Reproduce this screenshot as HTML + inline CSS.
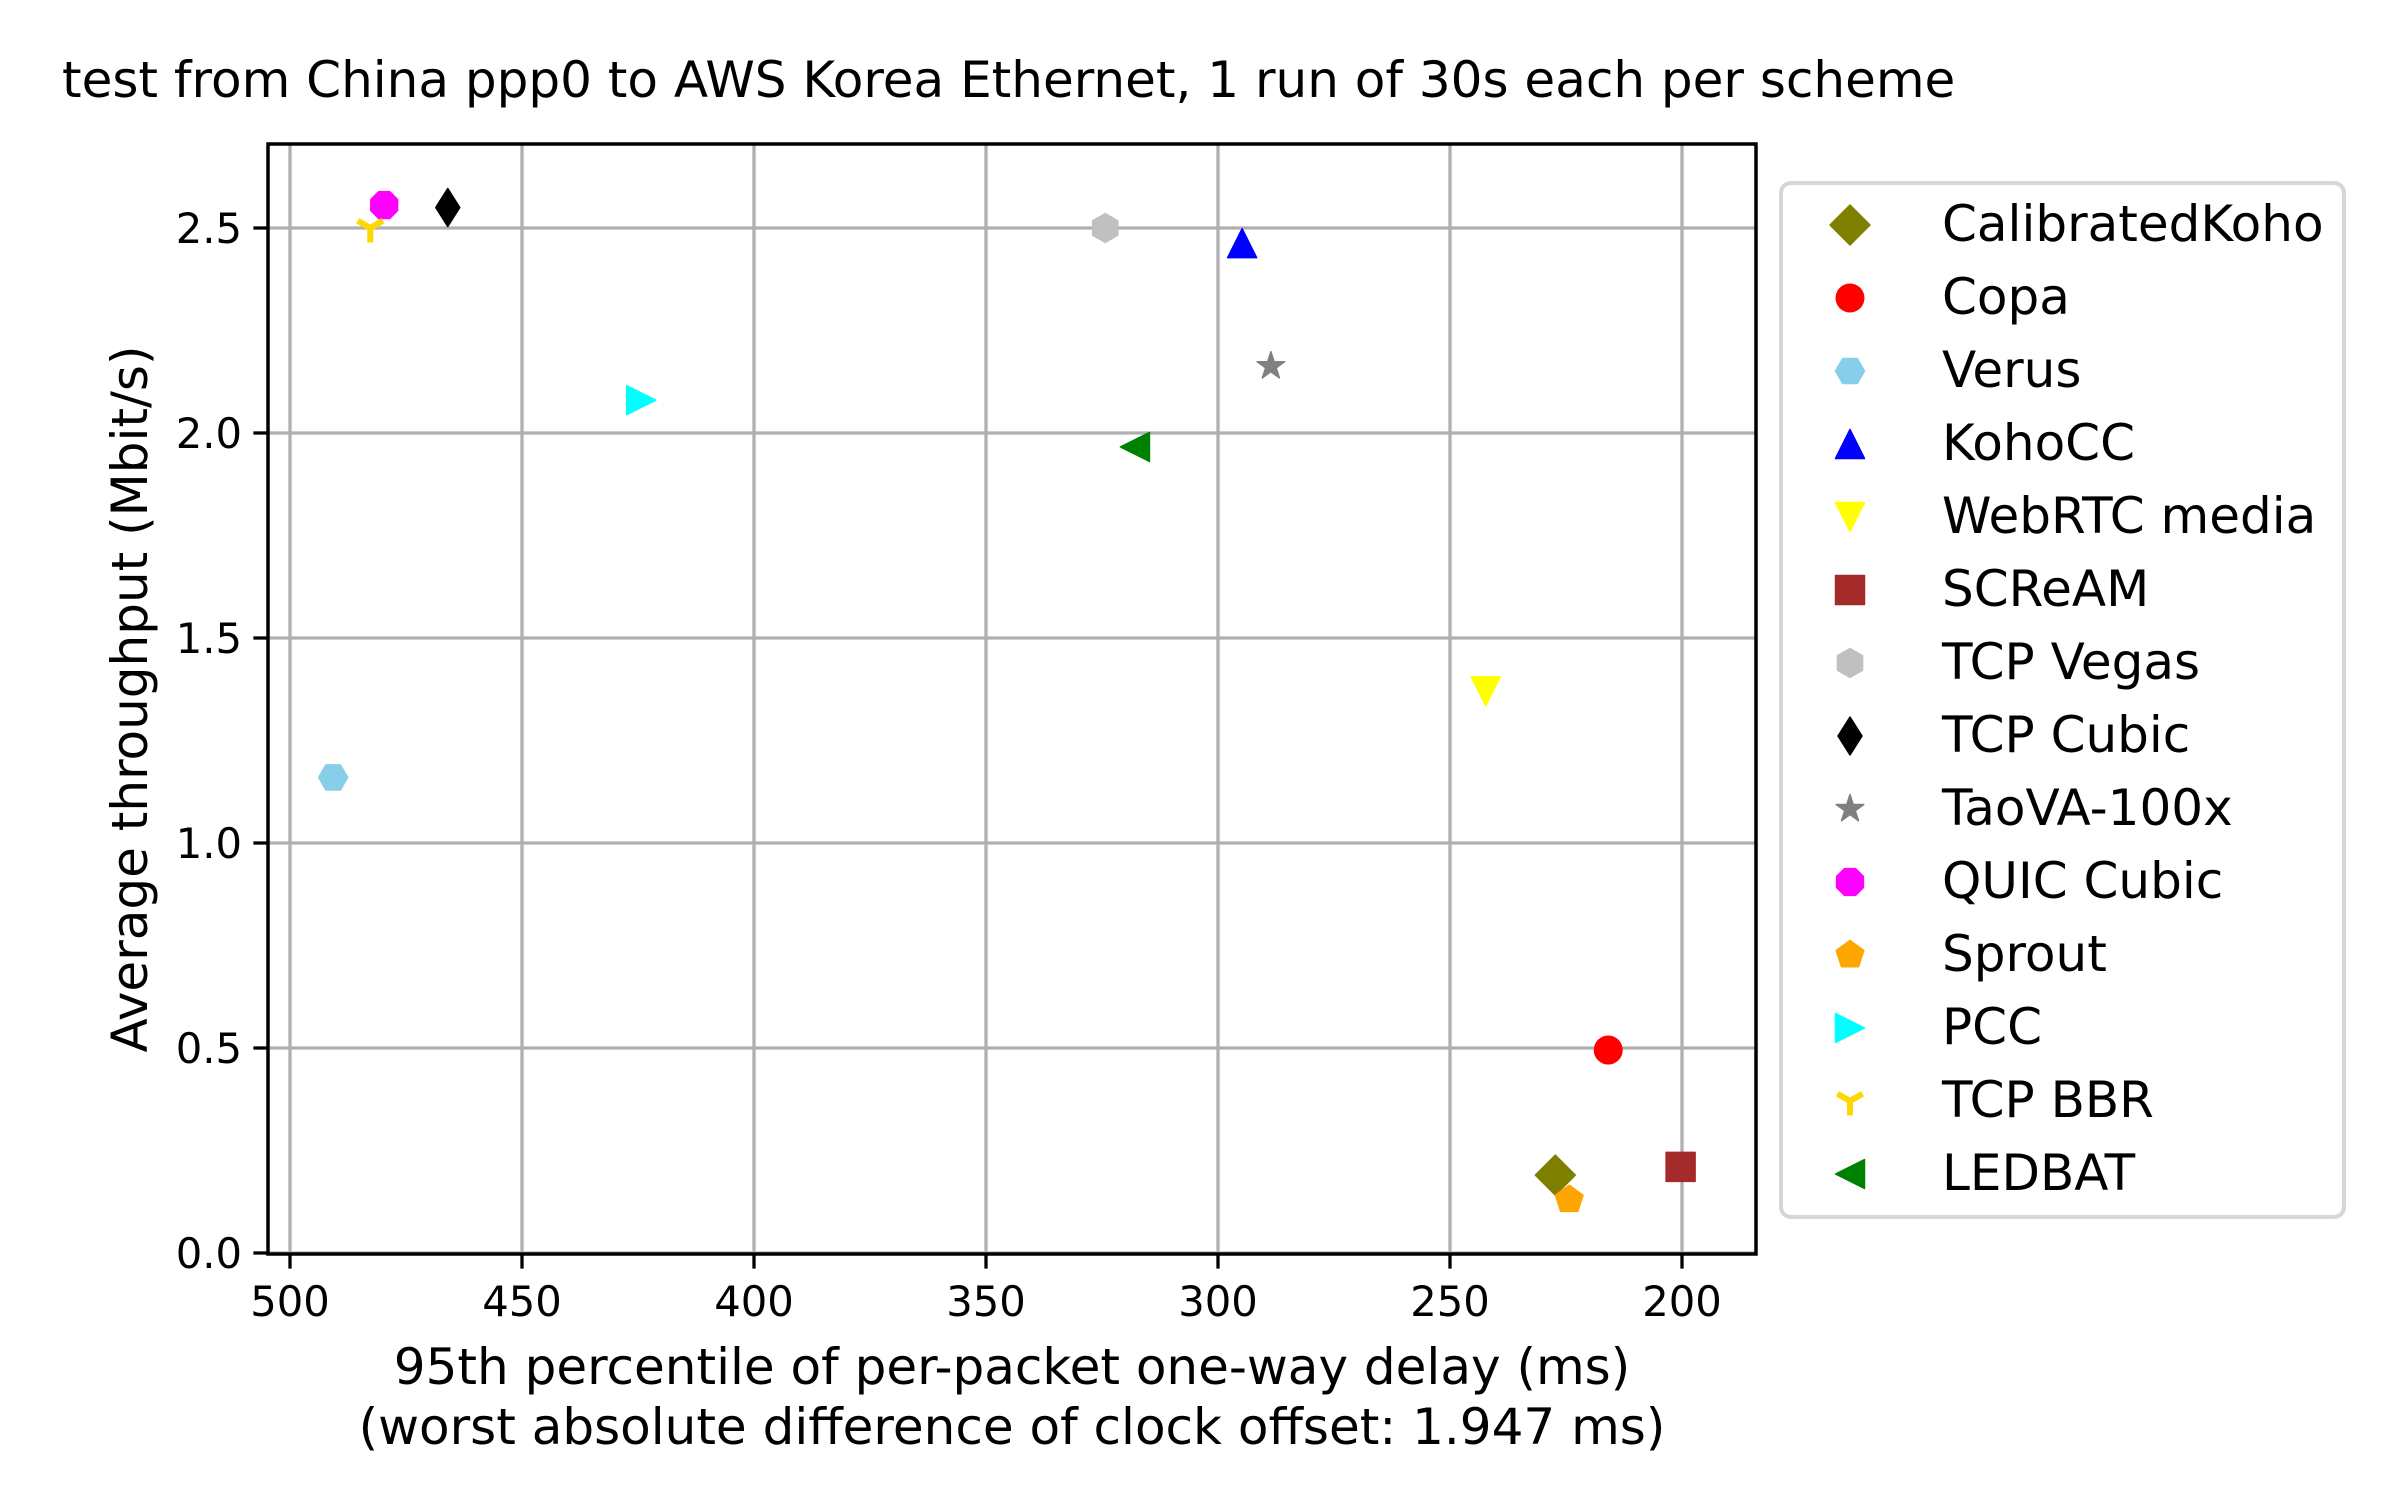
<!DOCTYPE html>
<html><head><meta charset="utf-8"><style>
html,body{margin:0;padding:0;background:#fff}
svg{display:block}
text{font-family:"DejaVu Sans","Liberation Sans",sans-serif;fill:#000}
</style></head><body>
<svg id="chart" width="2404" height="1505" viewBox="0 0 2404 1505" xmlns="http://www.w3.org/2000/svg">
<rect x="0" y="0" width="2404" height="1505" fill="#fff"/>
<text x="62" y="97" font-size="50">test from China ppp0 to AWS Korea Ethernet, 1 run of 30s each per scheme</text>
<g id="grid"></g>
<g id="marks"></g>
<rect x="268" y="144" width="1488" height="1110" fill="none" stroke="#000" stroke-width="3.5"/>
<g id="ticks"></g>
<text x="1012" y="1384" font-size="50" text-anchor="middle">95th percentile of per-packet one-way delay (ms)</text>
<text x="1012" y="1444" font-size="50" text-anchor="middle">(worst absolute difference of clock offset: 1.947 ms)</text>
<text x="0" y="0" font-size="50" text-anchor="middle" transform="translate(147,699) rotate(-90)">Average throughput (Mbit/s)</text>
<g id="legend">
<rect x="1781" y="183" width="563" height="1034" rx="10" fill="#fff" stroke="#d6d6d6" stroke-width="4"/>
</g>
</svg>
<script>
const schemes=["CalibratedKoho","Copa","Verus","KohoCC","WebRTC media","SCReAM","TCP Vegas","TCP Cubic","TaoVA-100x","QUIC Cubic","Sprout","PCC","TCP BBR","LEDBAT"];
const delays=[227.3,215.9,490.7,294.8,242.3,200.3,324.3,466,288.6,479.7,224.3,424.3,482.7,317.9];
const throughputs=[0.19,0.495,1.16,2.463,1.37,0.21,2.50,2.55,2.163,2.556,0.13,2.08,2.50,1.966];
const colors=["#808000","#ff0000","#87ceeb","#0000ff","#ffff00","#a52a2a","#c0c0c0","#000000","#808080","#ff00ff","#ffa500","#00ffff","#ffd700","#008000"];
const markers=["D","o","H","^","v","s","h","d","*","8","p",">","1","<"];
const xTicks=[500,450,400,350,300,250,200];
const yTicks=[0.0,0.5,1.0,1.5,2.0,2.5];
const yTickLabels=["0.0","0.5","1.0","1.5","2.0","2.5"];

const NS="http://www.w3.org/2000/svg";
const X0=268,X1=1756,Y0=144,Y1=1254;
function xs(v){return 290+(500-v)*4.64;}
function ys(v){return 1253-v*410;}
function mk(tag,attrs,parent){const e=document.createElementNS(NS,tag);for(const k in attrs)e.setAttribute(k,attrs[k]);parent.appendChild(e);return e;}
function poly(pts){return pts.map(p=>p[0].toFixed(2)+","+p[1].toFixed(2)).join(" ");}
function regular(n,r,rot){const p=[];for(let i=0;i<n;i++){const a=rot+i*2*Math.PI/n;p.push([r*Math.sin(a),-r*Math.cos(a)]);}return p;}
function drawMarker(parent,type,cx,cy,color){
  const r=14.5;let pts=null;
  const g=mk('g',{transform:`translate(${cx},${cy})`},parent);
  if(type==='o'){mk('circle',{cx:0,cy:0,r:r,fill:color},g);return g;}
  if(type==='1'){
    const arms=[[0,r],[-0.866*r,-0.5*r],[0.866*r,-0.5*r]];
    arms.forEach(a=>mk('line',{x1:0,y1:0,x2:a[0],y2:a[1],stroke:color,'stroke-width':6},g));
    return g;}
  switch(type){
    case 'D':pts=[[0,-20],[20,0],[0,20],[-20,0]];break;
    case 'd':pts=[[0,-19],[12,0],[0,19],[-12,0]];break;
    case 's':pts=[[-r,-r],[r,-r],[r,r],[-r,r]];break;
    case '^':pts=[[0,-r],[r,r],[-r,r]];break;
    case 'v':pts=[[0,r],[r,-r],[-r,-r]];break;
    case '>':pts=[[r,0],[-r,-r],[-r,r]];break;
    case '<':pts=[[-r,0],[r,-r],[r,r]];break;
    case 'H':pts=regular(6,r,Math.PI/2);break;
    case 'h':pts=regular(6,r,0);break;
    case '8':pts=regular(8,r,Math.PI/8);break;
    case 'p':pts=regular(5,r,0);break;
    case '*':{pts=[];for(let i=0;i<10;i++){const rr=i%2?r*0.382:r;const a=i*Math.PI/5;pts.push([rr*Math.sin(a),-rr*Math.cos(a)]);}break;}
  }
  mk('polygon',{points:poly(pts),fill:color,stroke:color,'stroke-width':1.5,'stroke-linejoin':'round'},g);
  return g;
}
const grid=document.getElementById('grid'),ticks=document.getElementById('ticks'),marks=document.getElementById('marks'),legend=document.getElementById('legend');
xTicks.forEach(v=>{
  const x=xs(v);
  const gl=mk('line',{x1:x,y1:Y0,x2:x,y2:Y1,stroke:'#b0b0b0','stroke-width':3.3},grid);
  
  
  mk('line',{x1:x,y1:Y1,x2:x,y2:Y1+14.6,stroke:'#000','stroke-width':3.3},ticks);
  const t=mk('text',{x:x,y:Y1+62,'font-size':41.7,'text-anchor':'middle'},ticks);
  t.textContent=String(v);
  
  
});
yTicks.forEach((v,i)=>{
  const y=ys(v);
  const gl=mk('line',{x1:X0,y1:y,x2:X1,y2:y,stroke:'#b0b0b0','stroke-width':3.3},grid);
  
  
  mk('line',{x1:X0-14.6,y1:y,x2:X0,y2:y,stroke:'#000','stroke-width':3.3},ticks);
  const t=mk('text',{x:X0-26,y:y+15,'font-size':41.7,'text-anchor':'end'},ticks);
  t.textContent=yTickLabels[i];
  
  
});
schemes.forEach((s,i)=>{
  const m=drawMarker(marks,markers[i],xs(delays[i]),ys(throughputs[i]),colors[i]);
  
  
  const ly=225+i*73.0;
  const lm=drawMarker(legend,markers[i],1850,ly,colors[i]);
  
  
  const t=mk('text',{x:1942,y:ly+16,'font-size':50},legend);
  t.textContent=s;
  
  
});
</script>
</body></html>
